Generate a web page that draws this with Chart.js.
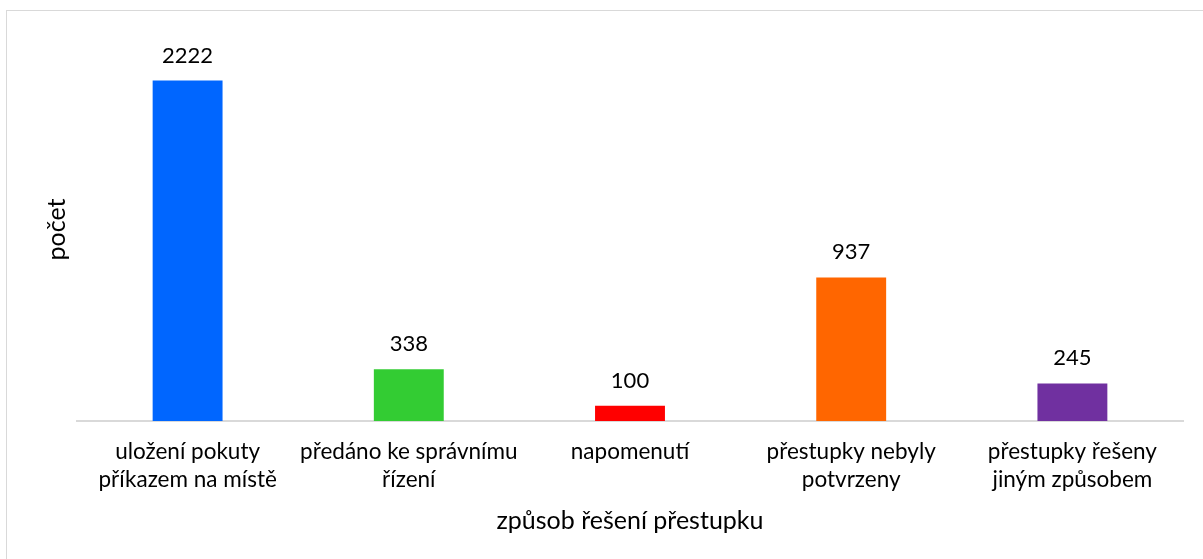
<!DOCTYPE html>
<html>
<head>
<meta charset="utf-8">
<script src="https://cdn.jsdelivr.net/npm/chart.js@4"></script>
<style>
html,body{margin:0;padding:0;background:#fff;overflow:hidden;width:1203px;height:559px;}
#wrap{position:absolute;left:0;top:0;width:1203px;height:559px;}
#frame{position:absolute;left:6px;top:10px;width:1300px;height:700px;border:1px solid #d9d9d9;pointer-events:none;}
</style>
</head>
<body>
<div id="wrap"><canvas id="c" width="1203" height="559"></canvas></div>
<div id="frame"></div>
<script>
const categories = [
  ["uložení pokuty", "příkazem na místě"],
  ["předáno ke správnímu", "řízení"],
  ["napomenutí"],
  ["přestupky nebyly", "potvrzeny"],
  ["přestupky řešeny", "jiným způsobem"]
];
const values = [2222, 338, 100, 937, 245];
const barColors = ["#0066FF", "#33CC33", "#FF0000", "#FF6600", "#7030A0"];
const xTitle = "způsob řešení přestupku";
const yTitle = "počet";

const FONT = "Lato, 'Open Sans', sans-serif";

const labelPlugin = {
  id: 'valueLabels',
  afterDatasetsDraw(chart) {
    const ctx = chart.ctx;
    const meta = chart.getDatasetMeta(0);
    ctx.save();
    ctx.font = "22px " + FONT;
    ctx.fillStyle = "#000";
    ctx.textAlign = "center";
    ctx.textBaseline = "alphabetic";
    meta.data.forEach((bar, i) => {
      ctx.fillText(String(values[i]), bar.x, bar.y - 18);
    });
    ctx.restore();
  }
};

function draw() {
  new Chart(document.getElementById('c'), {
    type: 'bar',
    data: {
      labels: categories,
      datasets: [{
        data: values,
        backgroundColor: barColors,
        borderWidth: 0,
        categoryPercentage: 1,
        barPercentage: 0.316
      }]
    },
    options: {
      responsive: false,
      animation: false,
      devicePixelRatio: 1,
      layout: { padding: { top: 38, right: 20, left: 0, bottom: 0 } },
      plugins: { legend: { display: false }, tooltip: { enabled: false } },
      scales: {
        x: {
          grid: { display: false, drawTicks: false },
          border: { display: true, color: "#d9d9d9", width: 2 },
          ticks: { color: "#000", font: { family: FONT, size: 22.5, lineHeight: 1.244 }, padding: 17, maxRotation: 0, autoSkip: false },
          title: { display: true, text: xTitle, color: "#000", font: { family: FONT, size: 25, lineHeight: 1.2 }, padding: { top: 0, bottom: 23 } },
          afterFit(s) { s.height = 138; }
        },
        y: {
          min: 0, max: 2500,
          grid: { display: false, drawTicks: false },
          border: { display: false },
          ticks: { display: false },
          title: { display: true, text: yTitle, color: "#000", font: { family: FONT, size: 25, lineHeight: 1.2 }, padding: { top: 42, bottom: 0 } },
          afterFit(s) { s.width = 77; }
        }
      }
    },
    plugins: [labelPlugin]
  });
}

if (document.fonts && document.fonts.load) {
  Promise.all([document.fonts.load("24px Lato"), document.fonts.load("22px Lato")]).then(draw, draw);
} else {
  draw();
}
</script>
</body>
</html>
